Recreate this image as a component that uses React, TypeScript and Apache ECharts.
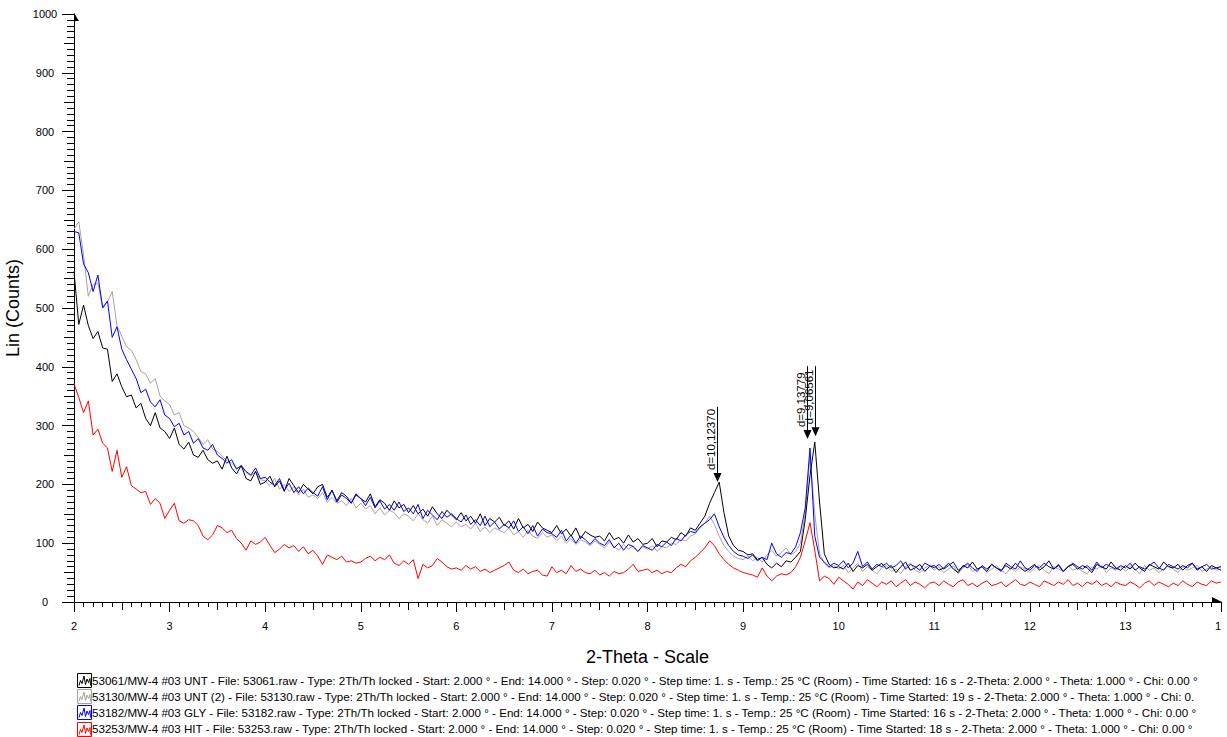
import React, { useEffect, useRef } from 'react';
import * as echarts from 'echarts';

// 2-Theta grid: start 2.000°, one value every 0.05° up to 14.000°
const START = 2;
const STEP = 0.05;

const BLACK_53061 = [
  562, 472, 505, 470, 448, 460, 432, 430, 375, 388,
  366, 349, 352, 330, 338, 312, 300, 322, 296, 290,
  278, 296, 268, 260, 272, 250, 246, 258, 242, 236,
  240, 226, 248, 228, 218, 232, 210, 206, 222, 200,
  204, 214, 196, 206, 188, 210, 198, 186, 200, 192,
  184, 196, 200, 178, 190, 172, 186, 180, 168, 182,
  176, 170, 184, 162, 174, 168, 156, 172, 160, 166,
  152, 164, 150, 158, 146, 162, 150, 142, 156, 148,
  140, 152, 138, 146, 134, 150, 130, 142, 136, 144,
  130, 138, 124, 142, 126, 132, 120, 136, 126, 122,
  118, 130, 116, 124, 112, 126, 108, 120, 114, 110,
  112, 104, 118, 106, 110, 100, 114, 102, 108, 98,
  100, 108, 94, 104, 102, 110, 106, 118, 112, 126,
  122, 134, 146, 168, 186, 204, 152, 112, 96, 88,
  86, 80, 82, 72, 76, 64, 58, 66, 60, 70,
  68, 76, 86, 140, 215, 272, 170, 82, 64, 58,
  60, 56, 66, 52, 62, 58, 64, 54, 60, 66,
  56, 62, 50, 60, 68, 54, 58, 64, 52, 60,
  62, 54, 58, 66, 56, 50, 62, 58, 68, 56,
  60, 52, 64, 58, 54, 62, 56, 66, 58, 52,
  58, 64, 54, 60, 70, 56, 62, 52, 60, 64,
  56, 62, 58, 50, 64, 60, 56, 68, 58, 54,
  62, 56, 66, 58, 52, 64, 60, 56, 68, 60,
  58, 64, 54, 62, 66, 56, 60, 52, 62, 58,
  60,
];

const GREY_53130 = [
  634, 647, 590, 520, 540, 542, 502, 510, 528, 470,
  452, 434, 428, 412, 392, 388, 372, 380, 350, 342,
  336, 318, 322, 300, 296, 290, 280, 268, 276, 260,
  256, 248, 240, 236, 228, 230, 220, 214, 222, 208,
  206, 198, 210, 192, 200, 188, 196, 182, 192, 178,
  182, 176, 186, 170, 178, 168, 172, 164, 176, 160,
  168, 158, 164, 150, 160, 148, 156, 152, 142, 150,
  146, 138, 150, 140, 134, 146, 130, 140, 134, 128,
  136, 128, 132, 124, 134, 120, 128, 118, 126, 122,
  118, 126, 114, 120, 110, 122, 112, 108, 118, 110,
  114, 104, 112, 100, 108, 98, 106, 102, 96, 104,
  98, 92, 102, 94, 88, 98, 90, 96, 86, 94,
  90, 96, 86, 94, 92, 100, 98, 106, 104, 112,
  116, 126, 134, 146, 132, 112, 96, 86, 78, 74,
  72, 78, 70, 76, 68, 80, 88, 78, 84, 92,
  80, 86, 100, 150, 248, 150, 82, 66, 58, 62,
  56, 62, 50, 58, 66, 52, 60, 54, 48, 58,
  62, 52, 56, 48, 60, 66, 54, 50, 58, 62,
  54, 60, 50, 56, 62, 48, 58, 64, 52, 56,
  60, 50, 56, 62, 54, 48, 58, 52, 60, 56,
  50, 58, 62, 54, 48, 60, 56, 52, 62, 54,
  58, 52, 48, 60, 56, 62, 50, 58, 54, 60,
  52, 60, 56, 48, 62, 54, 58, 50, 56, 62,
  56, 50, 60, 54, 58, 62, 52, 56, 60, 54,
  56,
];

const BLUE_53182 = [
  630, 628, 575, 560, 528, 556, 500, 512, 450, 468,
  430, 412, 396, 380, 356, 362, 340, 332, 344, 318,
  312, 298, 304, 284, 290, 270, 278, 262, 258, 268,
  250, 244, 236, 242, 226, 232, 222, 216, 228, 210,
  212, 204, 198, 210, 190, 202, 186, 196, 184, 194,
  186, 180, 196, 174, 190, 170, 182, 176, 168, 184,
  176, 164, 178, 160, 172, 158, 166, 156, 170, 154,
  160, 150, 166, 142, 156, 148, 140, 154, 144, 150,
  142, 136, 148, 132, 140, 130, 146, 128, 136, 124,
  132, 126, 138, 120, 128, 116, 130, 112, 124, 118,
  116, 110, 122, 104, 114, 100, 112, 106, 98, 108,
  100, 96, 106, 92, 100, 88, 98, 94, 86, 96,
  92, 88, 98, 94, 102, 96, 108, 104, 114, 120,
  118, 128, 134, 140, 150, 128, 110, 96, 86, 80,
  78, 74, 80, 70, 76, 72, 100, 82, 76, 84,
  82, 94, 118, 160, 262, 112, 76, 68, 60, 66,
  62, 70, 58, 66, 86, 60, 68, 56, 64, 60,
  66, 58, 62, 70, 56, 64, 60, 54, 66, 62,
  58, 64, 56, 62, 68, 54, 60, 66, 58, 52,
  62, 56, 64, 58, 52, 66, 60, 56, 70, 58,
  54, 62, 58, 66, 60, 56, 64, 52, 60, 66,
  60, 56, 62, 54, 68, 58, 64, 60, 56, 62,
  58, 66, 54, 60, 56, 62, 68, 58, 54, 64,
  60, 56, 62, 58, 66, 54, 60, 64, 56, 58,
  54,
];

const RED_53253 = [
  371, 348, 322, 342, 284, 294, 270, 262, 222, 258,
  212, 230, 198, 192, 186, 188, 166, 176, 168, 142,
  156, 168, 138, 134, 140, 138, 130, 112, 106, 114,
  130, 126, 118, 122, 108, 100, 88, 104, 98, 102,
  110, 96, 84, 90, 98, 92, 96, 86, 94, 82,
  88, 78, 64, 80, 76, 72, 78, 68, 70, 66,
  68, 74, 78, 70, 76, 72, 80, 66, 62, 70,
  64, 72, 40, 64, 58, 62, 74, 68, 60, 56,
  58, 54, 62, 56, 60, 52, 56, 50, 54, 58,
  62, 68, 54, 50, 56, 48, 52, 54, 46, 44,
  60, 50, 54, 48, 62, 52, 56, 50, 48, 54,
  46, 50, 44, 52, 48, 50, 56, 64, 52, 54,
  56, 50, 54, 48, 52, 50, 58, 64, 60, 70,
  76, 84, 92, 104, 96, 82, 72, 64, 58, 54,
  50, 48, 46, 42, 58, 44, 36, 44, 48, 46,
  50, 60, 76, 104, 135, 88, 36, 44, 40, 30,
  42, 36, 30, 22, 34, 28, 38, 32, 26, 34,
  30, 36, 26, 32, 38, 28, 34, 30, 24, 32,
  34, 28, 36, 30, 26, 34, 38, 28, 32, 26,
  32, 36, 28, 30, 34, 26, 32, 38, 30, 28,
  34, 30, 26, 36, 32, 28, 34, 30, 38, 28,
  32, 26, 34, 30, 36, 28, 32, 26, 34, 30,
  28, 34, 30, 24, 32, 36, 28, 34, 30, 26,
  32, 28, 36, 30, 26, 34, 30, 28, 36, 32,
  34,
];

const SERIES_NAMES = [
  '53061/MW-4 #03 UNT',
  '53130/MW-4 #03 UNT (2)',
  '53182/MW-4 #03 GLY',
  '53253/MW-4 #03 HIT',
];
const SERIES_VALUES = [BLACK_53061, GREY_53130, BLUE_53182, RED_53253];
const SERIES_COLORS = ['#000000', '#a8a49c', '#0000ff', '#ff0000'];
const DRAW_ORDER = [1, 0, 2, 3];

const LEGEND_TEXTS = [
  '53061/MW-4 #03 UNT - File: 53061.raw - Type: 2Th/Th locked - Start: 2.000 ° - End: 14.000 ° - Step: 0.020 ° - Step time: 1. s - Temp.: 25 °C (Room) - Time Started: 16 s - 2-Theta: 2.000 ° - Theta: 1.000 ° - Chi: 0.00 °',
  '53130/MW-4 #03 UNT (2) - File: 53130.raw - Type: 2Th/Th locked - Start: 2.000 ° - End: 14.000 ° - Step: 0.020 ° - Step time: 1. s - Temp.: 25 °C (Room) - Time Started: 19 s - 2-Theta: 2.000 ° - Theta: 1.000 ° - Chi: 0.',
  '53182/MW-4 #03 GLY - File: 53182.raw - Type: 2Th/Th locked - Start: 2.000 ° - End: 14.000 ° - Step: 0.020 ° - Step time: 1. s - Temp.: 25 °C (Room) - Time Started: 16 s - 2-Theta: 2.000 ° - Theta: 1.000 ° - Chi: 0.00 °',
  '53253/MW-4 #03 HIT - File: 53253.raw - Type: 2Th/Th locked - Start: 2.000 ° - End: 14.000 ° - Step: 0.020 ° - Step time: 1. s - Temp.: 25 °C (Room) - Time Started: 18 s - 2-Theta: 2.000 ° - Theta: 1.000 ° - Chi: 0.00 °',
];

// d-spacing markers: 2-Theta position, arrow tip count, line top count
const PEAK_POS = [8.73, 9.67, 9.75];
const PEAK_TIP = [204, 277, 282];
const PEAK_TOP = [332, 401, 401];
const PEAK_LABELS = ['d=10,12370', 'd=9,13779', 'd=9,06561'];

const X_MIN = 2;
const X_MAX = 14;
const Y_MIN = 0;
const Y_MAX = 1000;

const FONT = 'Liberation Sans, Arial, Helvetica, sans-serif';

function toPairs(values: number[]) {
  return values.map((v, i) => [Number((START + i * STEP).toFixed(2)), v]);
}

export default function App() {
  const ref = useRef<HTMLDivElement>(null);

  useEffect(() => {
    if (!ref.current) return;
    const chart = echarts.init(ref.current, undefined, { renderer: 'svg' });

    const tickStyle = { color: '#000', width: 1 };

    const option: any = {
      animation: false,
      backgroundColor: '#ffffff',
      grid: { left: 74, right: 6, top: 14, bottom: 135, containLabel: false, outerBoundsMode: 'none' },
      xAxis: [
        {
          type: 'value',
          min: X_MIN,
          max: X_MAX,
          interval: 1,
          axisLine: { show: true, onZero: false, lineStyle: tickStyle },
          axisTick: { show: true, length: 10, lineStyle: tickStyle },
          minorTick: { show: true, splitNumber: 10, length: 5, lineStyle: tickStyle },
          splitLine: { show: false },
          minorSplitLine: { show: false },
          axisLabel: { color: '#000', fontSize: 11, margin: 18, fontFamily: FONT, formatter: (v: number) => String(v) },
          name: '2-Theta - Scale',
          nameLocation: 'middle',
          nameGap: 46,
          nameTextStyle: { color: '#000', fontSize: 18, fontFamily: FONT },
        },
        {
          type: 'value',
          min: X_MIN,
          max: X_MAX,
          interval: 0.5,
          position: 'bottom',
          axisLine: { show: false, onZero: false },
          axisTick: { show: true, length: 8, lineStyle: tickStyle },
          axisLabel: { show: false },
          splitLine: { show: false },
        },
      ],
      yAxis: [
        {
          type: 'value',
          min: Y_MIN,
          max: Y_MAX,
          interval: 100,
          axisLine: { show: true, onZero: false, lineStyle: tickStyle },
          axisTick: { show: true, length: 12, lineStyle: tickStyle },
          minorTick: { show: true, splitNumber: 10, length: 7, lineStyle: tickStyle },
          splitLine: { show: false },
          minorSplitLine: { show: false },
          axisLabel: {
            color: '#000',
            fontSize: 11,
            margin: 29,
            align: 'center',
            fontFamily: FONT,
            formatter: (v: number) => String(v),
          },
          name: 'Lin (Counts)',
          nameLocation: 'middle',
          nameGap: 45,
          nameRotate: 90,
          nameTextStyle: { color: '#000', fontSize: 18, fontFamily: FONT },
        },
        {
          type: 'value',
          min: Y_MIN,
          max: Y_MAX,
          interval: 50,
          position: 'left',
          axisLine: { show: false, onZero: false },
          axisTick: { show: true, length: 10, lineStyle: tickStyle },
          axisLabel: { show: false },
          splitLine: { show: false },
        },
      ],
      series: DRAW_ORDER.map((idx) => ({
        name: SERIES_NAMES[idx],
        type: 'line',
        xAxisIndex: 0,
        yAxisIndex: 0,
        data: toPairs(SERIES_VALUES[idx]),
        showSymbol: false,
        symbol: 'none',
        silent: true,
        lineStyle: { color: SERIES_COLORS[idx], width: 1 },
        itemStyle: { color: SERIES_COLORS[idx] },
      })),
    };

    chart.setOption(option);

    const toPx = (x: number, y: number) =>
      chart.convertToPixel({ xAxisIndex: 0, yAxisIndex: 0 }, [x, y]) as number[];

    const graphics: any[] = [];

    // axis arrow heads
    const top = toPx(X_MIN, Y_MAX);
    graphics.push({
      type: 'polygon',
      silent: true,
      shape: { points: [[top[0], top[1] - 1], [top[0] + 5, top[1] + 7], [top[0], top[1] + 7]] },
      style: { fill: '#000' },
    });
    const right = toPx(X_MAX, Y_MIN);
    graphics.push({
      type: 'polygon',
      silent: true,
      shape: { points: [[right[0] - 9, right[1] - 5], [right[0] + 1, right[1]], [right[0] - 9, right[1]]] },
      style: { fill: '#000' },
    });
    // page edge crops the last tick label in the reference
    graphics.push({
      type: 'rect',
      silent: true,
      shape: { x: right[0], y: right[1] + 14, width: 20, height: 26 },
      style: { fill: '#ffffff' },
      z: 100,
    });

    // d-spacing markers
    PEAK_POS.forEach((x, i) => {
      const tip = toPx(x, PEAK_TIP[i]);
      const lt = toPx(x, PEAK_TOP[i]);
      const px = Math.round(tip[0]) + 0.5;
      graphics.push({
        type: 'line',
        silent: true,
        shape: { x1: px, y1: lt[1], x2: px, y2: tip[1] - 8 },
        style: { stroke: '#000', lineWidth: 1 },
      });
      graphics.push({
        type: 'polygon',
        silent: true,
        shape: { points: [[px - 4, tip[1] - 9], [px + 4, tip[1] - 9], [px, tip[1]]] },
        style: { fill: '#000' },
      });
      graphics.push({
        type: 'text',
        silent: true,
        x: px - 1,
        y: tip[1] - 12,
        rotation: Math.PI / 2,
        style: {
          text: PEAK_LABELS[i],
          fill: '#000',
          fontSize: 11.5,
          fontFamily: FONT,
          align: 'left',
          verticalAlign: 'bottom',
        },
      });
    });

    // legend block
    const wave = [[1.5, 12], [3, 7], [4.5, 10], [6.5, 2.5], [8, 11], [9.5, 5.5], [11, 9], [12.5, 5], [13, 12]];
    LEGEND_TEXTS.forEach((t, i) => {
      const cy = 680 + i * 16.2;
      const bx = 77.5;
      const by = Math.round(cy - 7) + 0.5;
      graphics.push({
        type: 'rect',
        silent: true,
        shape: { x: bx, y: by, width: 14, height: 14 },
        style: { fill: 'none', stroke: SERIES_COLORS[i], lineWidth: 1 },
      });
      graphics.push({
        type: 'polyline',
        silent: true,
        shape: { points: wave.map((p) => [bx + p[0], by + p[1]]) },
        style: { fill: 'none', stroke: SERIES_COLORS[i], lineWidth: 1 },
      });
      graphics.push({
        type: 'text',
        silent: true,
        x: 92,
        y: cy,
        style: {
          text: t,
          fill: '#000',
          fontSize: 11.6,
          fontFamily: FONT,
          align: 'left',
          verticalAlign: 'middle',
        },
      });
    });

    chart.setOption({ graphic: graphics });

    return () => chart.dispose();
  }, []);

  return (
    <div
      ref={ref}
      style={{ position: 'fixed', left: 0, top: 0, width: 1227, height: 737, background: '#fff' }}
    />
  );
}
